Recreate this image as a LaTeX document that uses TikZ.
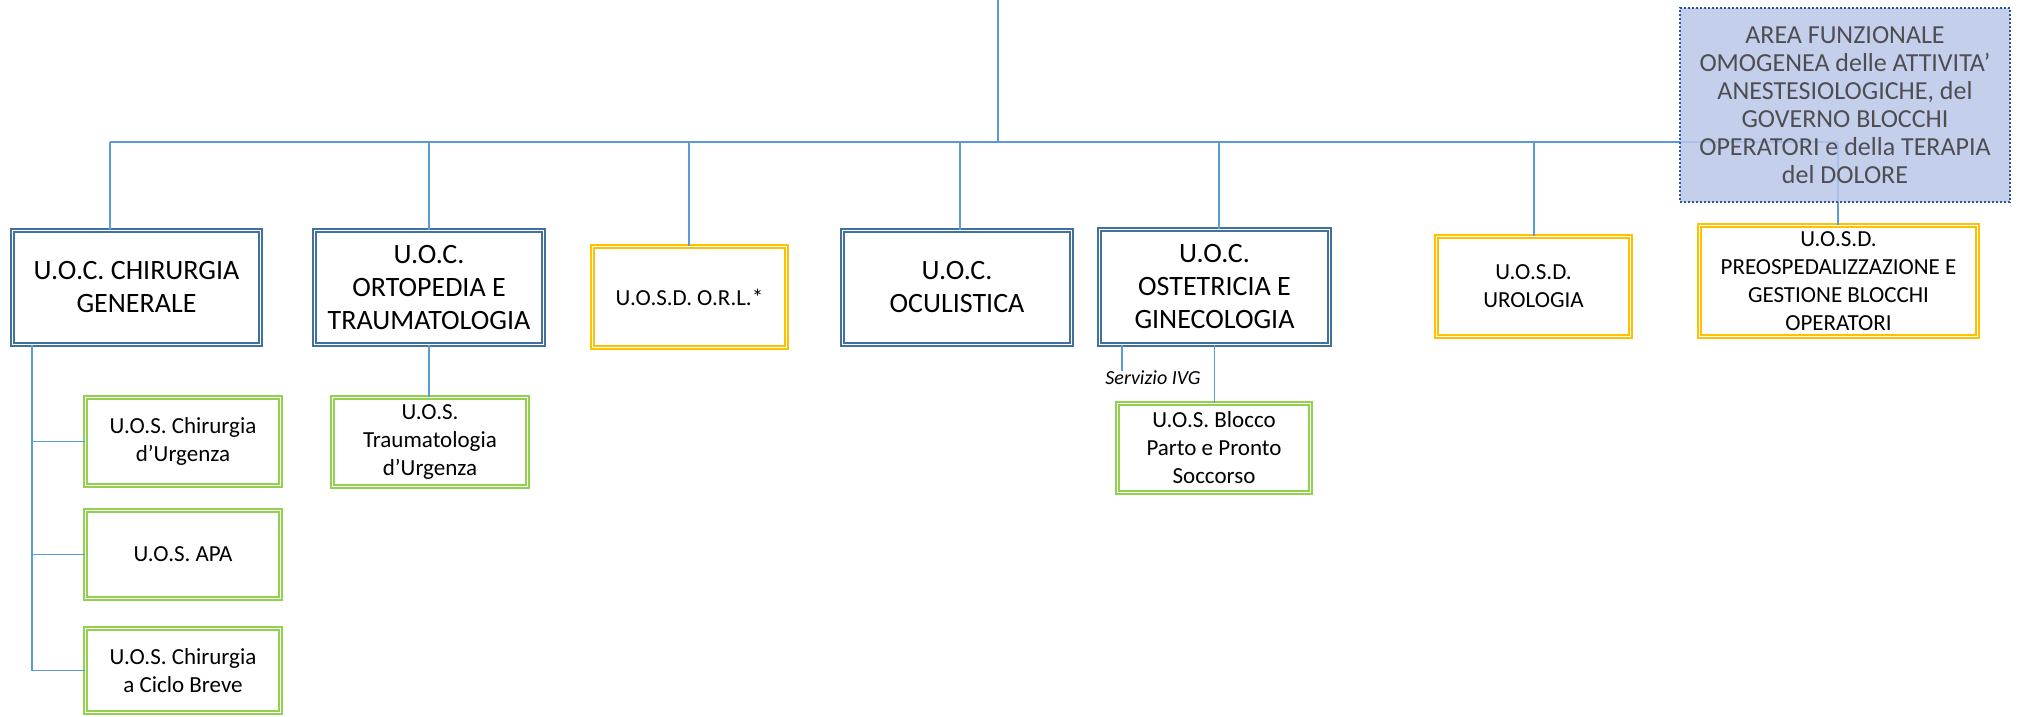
\documentclass[tikz,border=0pt]{standalone}
\usepackage{fontspec}
\setmainfont{Carlito}
\usepackage{tikz}
\tikzset{>=latex}

\definecolor{uocblue}{RGB}{65,113,156}
\definecolor{uosdgold}{RGB}{255,192,0}
\definecolor{uosgreen}{RGB}{146,208,80}
\definecolor{linkblue}{RGB}{91,155,213}
\definecolor{areafill}{RGB}{186,199,233}
\definecolor{areaborder}{RGB}{47,85,151}
\definecolor{areatext}{RGB}{78,78,82}

\tikzset{
  box/.style={rectangle, align=center, inner sep=1pt, line width=0.9pt,
    double=white, double distance=0.8pt, text=black},
  uoc/.style={box, draw=uocblue, font=\fontsize{14}{16.5}\selectfont},
  uosd/.style={box, draw=uosdgold, font=\fontsize{11.5}{14}\selectfont},
  uos/.style={box, draw=uosgreen, font=\fontsize{11.5}{14}\selectfont},
  link/.style={draw=linkblue, line width=0.75pt},
  area/.style={rectangle, align=center, inner sep=1pt, draw=areaborder,
    densely dotted, line width=1pt, fill=areafill, fill opacity=0.85,
    text opacity=1, text=areatext, font=\fontsize{13}{14}\selectfont},
  note/.style={inner sep=0pt, font=\fontsize{10}{12}\selectfont\itshape}
}

\begin{document}
\begin{tikzpicture}[x=0.5pt,y=-0.5pt]
            \useasboundingbox (0,0) rectangle (2020,717);
            % first row
            \node[uoc, minimum width=124pt, minimum height=57pt] (chir) at (136.5,287.5) {U.O.C. CHIRURGIA\\GENERALE};
            \node[uoc, minimum width=114.5pt, minimum height=57pt] (orto) at (429,287.5) {U.O.C.\\ORTOPEDIA E\\TRAUMATOLOGIA};
            \node[uosd, minimum width=97pt, minimum height=50.5pt] (orl) at (689.5,297) {U.O.S.D. O.R.L.*};
            \node[uoc, minimum width=114.5pt, minimum height=57pt] (ocul) at (957,287.5) {U.O.C.\\OCULISTICA};
            \node[uoc, minimum width=115pt, minimum height=57.5pt] (oste) at (1214.5,287) {U.O.C.\\OSTETRICIA E\\GINECOLOGIA};
            \node[uosd, minimum width=97pt, minimum height=50pt] (urol) at (1533.5,286.5) {U.O.S.D.\\UROLOGIA};
            \node[uosd, minimum width=139pt, minimum height=55.5pt] (preo) at (1838.5,281) {U.O.S.D.\\PREOSPEDALIZZAZIONE E\\GESTIONE BLOCCHI\\OPERATORI};
            % second level
            \node[uos, minimum width=97.5pt, minimum height=44pt] (urge) at (183,441.5) {U.O.S. Chirurgia\\d’Urgenza};
            \node[uos, minimum width=97.5pt, minimum height=44pt] (apa) at (183,554.5) {U.O.S. APA};
            \node[uos, minimum width=97.5pt, minimum height=42pt] (cicl) at (183,670.5) {U.O.S. Chirurgia\\a Ciclo Breve};
            \node[uos, minimum width=97.5pt, minimum height=44.5pt] (trau) at (430,442) {U.O.S.\\Traumatologia\\d’Urgenza};
            \node[uos, minimum width=96.5pt, minimum height=44.5pt] (parto) at (1214,448) {U.O.S. Blocco\\Parto e Pronto\\Soccorso};
            \node[note] (ivg) at (1153,378) {Servizio IVG};
            % bus
            \coordinate (top) at (998,0);
            \coordinate (hub) at (998,142);
            \coordinate (jchir) at (110,142);
            \coordinate (jorto) at (429,142);
            \coordinate (jorl) at (689,142);
            \coordinate (jocul) at (960,142);
            \coordinate (joste) at (1219,142);
            \coordinate (jurol) at (1534,142);
            \coordinate (jpreo) at (1838,142);
            \coordinate (xchir) at (32,0);
            \coordinate (xivg) at (1122,0);
            \draw[link] (top) -- (hub);
            \draw[link] (jchir) -- (jpreo);
            \draw[link] (jchir) -- (jchir |- chir.north);
            \draw[link] (jorto) -- (jorto |- orto.north);
            \draw[link] (jorl) -- (jorl |- orl.north);
            \draw[link] (jocul) -- (jocul |- ocul.north);
            \draw[link] (joste) -- (joste |- oste.north);
            \draw[link] (jurol) -- (jurol |- urol.north);
            \draw[link] (jpreo) -- (jpreo |- preo.north);
            \draw[link] (chir.south -| xchir) |- (cicl.west);
            \draw[link] (urge.west -| xchir) -- (urge.west);
            \draw[link] (apa.west -| xchir) -- (apa.west);
            \draw[link] (orto.south) -- (trau.north -| orto.south);
            \draw[link] (oste.south) -- (parto.north -| oste.south);
            \draw[link] (oste.south -| xivg) -- (ivg.north -| xivg);
            % area box on top
            \node[area, minimum width=165pt, minimum height=97pt] (area) at (1845,105) {AREA FUNZIONALE\\OMOGENEA delle ATTIVITA’\\ANESTESIOLOGICHE, del\\GOVERNO BLOCCHI\\OPERATORI e della TERAPIA\\del DOLORE};
        \end{tikzpicture}
\end{document}
